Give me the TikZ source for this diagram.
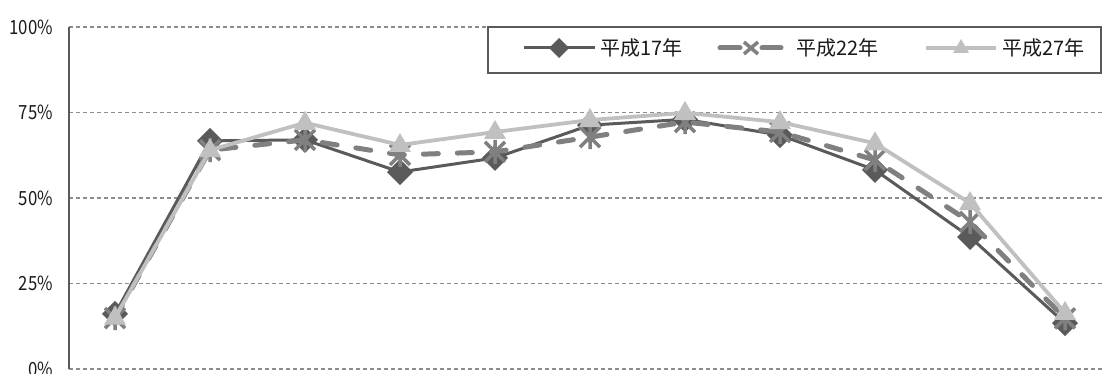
\documentclass[tikz,border=0pt]{standalone}
\usepackage{fontspec}
\setmainfont{Noto Sans CJK JP}
\newfontfamily\narrowfont[FakeStretch=0.86]{Noto Sans CJK JP}
\definecolor{cA}{HTML}{5A5A5A}
\definecolor{cB}{HTML}{808080}
\definecolor{cC}{HTML}{C0C0C0}
\definecolor{cG}{HTML}{8C8C8C}
\definecolor{cT}{HTML}{1A1A1A}
\tikzset{
  gridline/.style={cG, line width=1.1pt, dash pattern=on 4pt off 3pt},
  axisline/.style={cA, line width=1.6pt},
  serA/.style={cA, line width=3pt, line join=round},
  serB/.style={cB, line width=5pt, dash pattern=on 15pt off 19pt, line cap=round, line join=round},
  serC/.style={cC, line width=3.8pt, line join=round},
  markB/.style={cB, line width=3.5pt},
  ylab/.style={cT, font=\narrowfont\fontsize{19.5}{22}\selectfont, anchor=east, inner sep=0pt},
  leglab/.style={cT, font=\fontsize{20}{23}\selectfont, anchor=west, inner sep=0pt},
  legbox/.style={cA, line width=1.5pt},
}
\begin{document}
\begin{tikzpicture}[x=1pt,y=-1pt]
\useasboundingbox (0,0) rectangle (1102,374);
% grid and labels
\foreach \v/\t in {0/0\%,25/25\%,50/50\%,75/75\%,100/100\%}{
  \draw[gridline] (69,{369-3.42*\v}) -- (1102,{369-3.42*\v});
  \node[ylab] (lab\v) at (53,{369-3.42*\v}) {\t};
}
\draw[axisline] (69,27) -- (69,369);
% data coordinates
\foreach \v [count=\i from 0] in {16.1,66.7,67,57.6,61.7,71.3,73,68.4,58.2,38.6,13.4}
  \coordinate (a\i) at ({115+95*\i},{369-3.42*\v});
\foreach \v [count=\i from 0] in {14.9,64,67,62.6,63.5,67.8,72.2,69.3,61.1,43,14.8}
  \coordinate (b\i) at ({115+95*\i},{369-3.42*\v});
\foreach \v [count=\i from 0] in {15,64,72,65.5,69.3,72.8,74.9,72.2,66,48.5,16.4}
  \coordinate (c\i) at ({115+95*\i},{369-3.42*\v});
% series A
\draw[serA] (a0) \foreach \i in {1,...,10}{ -- (a\i)};
\foreach \i in {0,...,10}
  \fill[cA] (a\i) +(0,-13) -- +(13,0) -- +(0,13) -- +(-13,0) -- cycle;
% series B
\draw[serB] (b0) \foreach \i in {1,...,10}{ -- (b\i)};
\foreach \i in {0,...,10}
  \draw[markB] (b\i) +(-10,-10) -- +(10,10) (b\i) +(-10,10) -- +(10,-10) (b\i) +(0,-12) -- +(0,12);
% series C
\draw[serC] (c0) \foreach \i in {1,...,10}{ -- (c\i)};
\foreach \i in {0,...,10}
  \fill[cC] (c\i) +(0,-12) -- +(11,7) -- +(-11,7) -- cycle;
% legend
\draw[legbox, fill=white] (488,27) rectangle (1101,73);
\coordinate (la1) at (524,48); \coordinate (la2) at (595,48); \coordinate (lam) at (559,48);
\draw[serA] (la1) -- (la2);
\fill[cA] (lam) +(0,-10) -- +(10,0) -- +(0,10) -- +(-10,0) -- cycle;
\node[leglab] (tA) at (600,48) {平成17年};
\coordinate (lb1) at (720,48); \coordinate (lb2) at (781,48); \coordinate (lbm) at (751,48);
\draw[cB, line width=5pt, line cap=round] (lb1) -- (740,48) (762,48) -- (lb2);
\draw[markB, line width=3.5pt] (lbm) +(-7,-6) -- +(7,6) (lbm) +(-7,6) -- +(7,-6);
\node[leglab] (tB) at (796,48) {平成22年};
\coordinate (lc1) at (926,48); \coordinate (lc2) at (996,48); \coordinate (lcm) at (961,48);
\draw[serC] (lc1) -- (lc2);
\fill[cC] (lcm) +(0,-9) -- +(8,5) -- +(-8,5) -- cycle;
\node[leglab] (tC) at (1002,48) {平成27年};
\end{tikzpicture}
\end{document}
